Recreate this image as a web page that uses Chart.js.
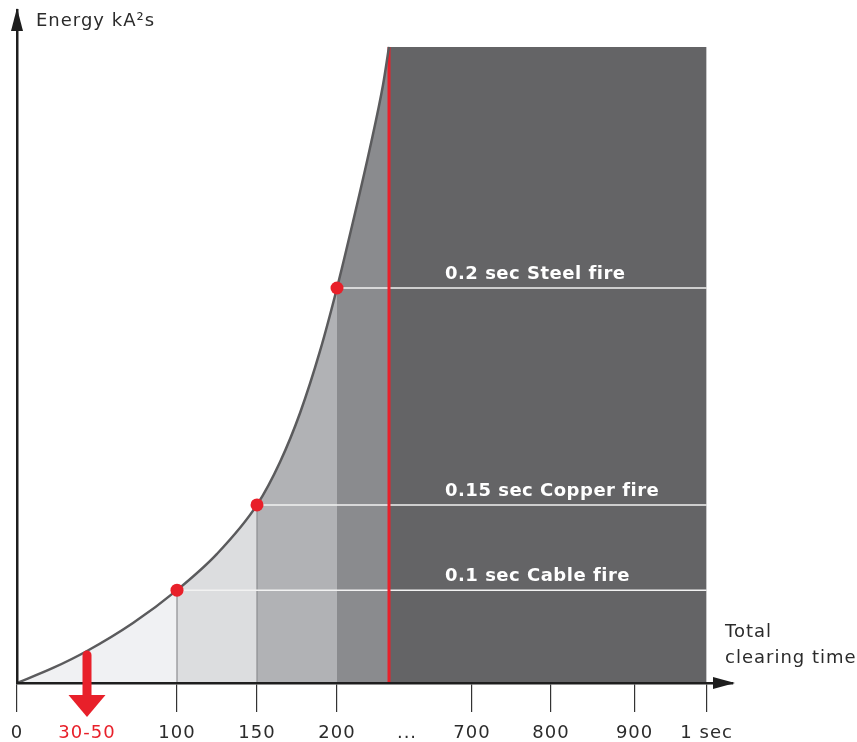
<!DOCTYPE html>
<html>
<head>
<meta charset="utf-8">
<script src="https://cdn.jsdelivr.net/npm/chart.js@4"></script>
<style>
  body { margin: 0; background: #fff; }
  canvas { display: block; }
</style>
</head>
<body>
<canvas id="energyChart" width="857" height="742"></canvas>
<script>
// curve (x in axis units, y in relative energy)
var curveX = [0, 22.5, 43.75, 72.5, 100, 125, 150, 164.4, 176.9, 189.4, 200, 210, 220.6, 228.75, 232.5];
var curveY = [0, 2.36, 5.03, 9.43, 14.6, 20.3, 28.0, 34.75, 42.45, 52.2, 62.1, 72.5, 84.1, 94.0, 100];

// fire thresholds
var fireLabels = ['0.1 sec Cable fire', '0.15 sec Copper fire', '0.2 sec Steel fire'];
var fireX = [100, 150, 200];
var fireY = [14.6, 28.0, 62.1];

// axis ticks
var tickLabels = ['0', '30-50', '100', '150', '200', '...', '700', '800', '900', '1 sec'];
var tickPos = [0, 43.75, 100, 150, 200, 243.75, 284.4, 333.75, 386, 431];

var breakerAt = 43.75;   // the 30-50 ms arrow
var limitX = 232.5;      // red line
var scaleEnd = 431;      // 1 sec
var topY = 100;

var RED = '#e8202a';
var bandColors = ['#f0f1f3', '#dcdddf', '#b1b2b5', '#8a8b8e'];
function bandColor(x) {
  if (x < 100) return bandColors[0];
  if (x < 150) return bandColors[1];
  if (x < 200) return bandColors[2];
  return bandColors[3];
}

var curve = curveX.map(function (x, i) { return { x: x, y: curveY[i] }; });
var noPts = { pointRadius: 0, pointHoverRadius: 0 };

var datasets = [];
// dots
datasets.push({
  data: fireX.map(function (x, i) { return { x: x, y: fireY[i] }; }),
  showLine: false, pointRadius: 6.5, pointHoverRadius: 6.5,
  pointBackgroundColor: RED, pointBorderWidth: 0, order: 0
});
// curve stroke
datasets.push(Object.assign({
  data: curve, borderColor: '#5b5b5d', borderWidth: 2.5,
  cubicInterpolationMode: 'monotone', fill: false, order: 1
}, noPts));
// red limit line
datasets.push(Object.assign({
  data: [{ x: limitX, y: 0 }, { x: limitX, y: topY }],
  borderColor: RED, borderWidth: 3, fill: false, order: 2
}, noPts));
// white threshold lines
fireX.forEach(function (x, i) {
  datasets.push(Object.assign({
    data: [{ x: x, y: fireY[i] }, { x: scaleEnd, y: fireY[i] }],
    borderColor: '#f2f2f2', borderWidth: 1.5, fill: false, order: 3
  }, noPts));
});
// gray dividers under the curve
[100, 150].forEach(function (x, i) {
  datasets.push(Object.assign({
    data: [{ x: x, y: 0 }, { x: x, y: fireY[i] }],
    borderColor: '#8c8d90', borderWidth: 1.2, fill: false, order: 4
  }, noPts));
});
// dark area after the limit
datasets.push(Object.assign({
  data: [{ x: limitX, y: topY }, { x: scaleEnd, y: topY }],
  borderWidth: 0, backgroundColor: '#646466', fill: 'origin', order: 5
}, noPts));
// shaded bands under the curve
datasets.push(Object.assign({
  data: curve, borderWidth: 0, borderColor: 'rgba(0,0,0,0)',
  cubicInterpolationMode: 'monotone', fill: 'origin', backgroundColor: bandColors[0],
  segment: { backgroundColor: function (ctx) { return bandColor(ctx.p0.parsed.x); } },
  order: 6
}, noPts));

var FONT = "'DejaVu Sans', 'Noto Sans', sans-serif";

var decorations = {
  id: 'decorations',
  beforeDraw: function (chart) {
    chart.ctx.letterSpacing = '1px';
  },
  afterDatasetsDraw: function (chart) {
    var c = chart.ctx, xs = chart.scales.x, ys = chart.scales.y;
    c.save();
    c.letterSpacing = '0.5px';
    c.fillStyle = '#ffffff';
    c.font = 'bold 18px ' + FONT;
    c.textAlign = 'left';
    c.textBaseline = 'middle';
    fireLabels.forEach(function (t, i) {
      c.fillText(t, xs.getPixelForValue(267.5), ys.getPixelForValue(fireY[i]) - 14);
    });
    c.restore();
  },
  afterDraw: function (chart) {
    var c = chart.ctx, xs = chart.scales.x, ys = chart.scales.y, a = chart.chartArea;
    c.save();
    c.fillStyle = '#1e1e1e';
    // y arrow head
    c.beginPath();
    c.moveTo(a.left, a.top - 2);
    c.lineTo(a.left - 6, a.top + 21);
    c.lineTo(a.left + 6, a.top + 21);
    c.closePath();
    c.fill();
    // x arrow head
    c.beginPath();
    c.moveTo(a.right + 2, a.bottom);
    c.lineTo(a.right - 20, a.bottom - 6);
    c.lineTo(a.right - 20, a.bottom + 6);
    c.closePath();
    c.fill();

    // red arrow at 30-50
    var ax = xs.getPixelForValue(breakerAt);
    var ay = ys.getPixelForValue(curveY[curveX.indexOf(breakerAt)]);
    c.strokeStyle = RED;
    c.fillStyle = RED;
    c.lineWidth = 9;
    c.lineCap = 'round';
    c.beginPath();
    c.moveTo(ax, ay + 4);
    c.lineTo(ax, a.bottom + 14);
    c.stroke();
    c.beginPath();
    c.moveTo(ax - 18.5, a.bottom + 12);
    c.lineTo(ax + 18.5, a.bottom + 12);
    c.lineTo(ax, a.bottom + 34);
    c.closePath();
    c.fill();

    // axis titles
    c.letterSpacing = '1px';
    c.fillStyle = '#2b2b2b';
    c.font = '18px ' + FONT;
    c.textAlign = 'left';
    c.textBaseline = 'middle';
    c.fillText('Energy kA\u00b2s', 36, 21);
    c.fillText('Total', 725, 632);
    c.fillText('clearing time', 725, 658);
    c.restore();
  }
};

var ctx = document.getElementById('energyChart').getContext('2d');
var chart = new Chart(ctx, {
  type: 'line',
  data: { datasets: datasets },
  plugins: [decorations],
  options: {
    responsive: false,
    animation: false,
    devicePixelRatio: 1,
    layout: { padding: { left: 17, right: 124, top: 10, bottom: 0 } },
    plugins: { legend: { display: false }, tooltip: { enabled: false } },
    elements: { line: { tension: 0 } },
    scales: {
      x: {
        type: 'linear',
        min: 0,
        max: 447.5,
        afterBuildTicks: function (scale) {
          scale.ticks = tickPos.map(function (v) { return { value: v }; });
        },
        afterFit: function (scale) { scale.height = 59; },
        grid: {
          drawOnChartArea: false,
          drawTicks: true,
          tickLength: 29,
          lineWidth: 1.2,
          color: function (c) {
            return (c.index === 1 || c.index === 5) ? 'rgba(0,0,0,0)' : '#333333';
          }
        },
        border: { display: true, color: '#1e1e1e', width: 2.5, z: 1 },
        ticks: {
          autoSkip: false,
          maxRotation: 0,
          padding: 11,
          font: { family: FONT, size: 18 },
          color: function (c) { return c.index === 1 ? RED : '#2b2b2b'; },
          callback: function (v, i) { return tickLabels[i]; }
        }
      },
      y: {
        type: 'linear',
        min: 0,
        max: 105.8,
        afterFit: function (scale) { scale.width = 0; },
        grid: { display: false, drawTicks: false },
        border: { display: true, color: '#1e1e1e', width: 2.5, z: 1 },
        ticks: { display: false }
      }
    }
  }
});
</script>
</body>
</html>
